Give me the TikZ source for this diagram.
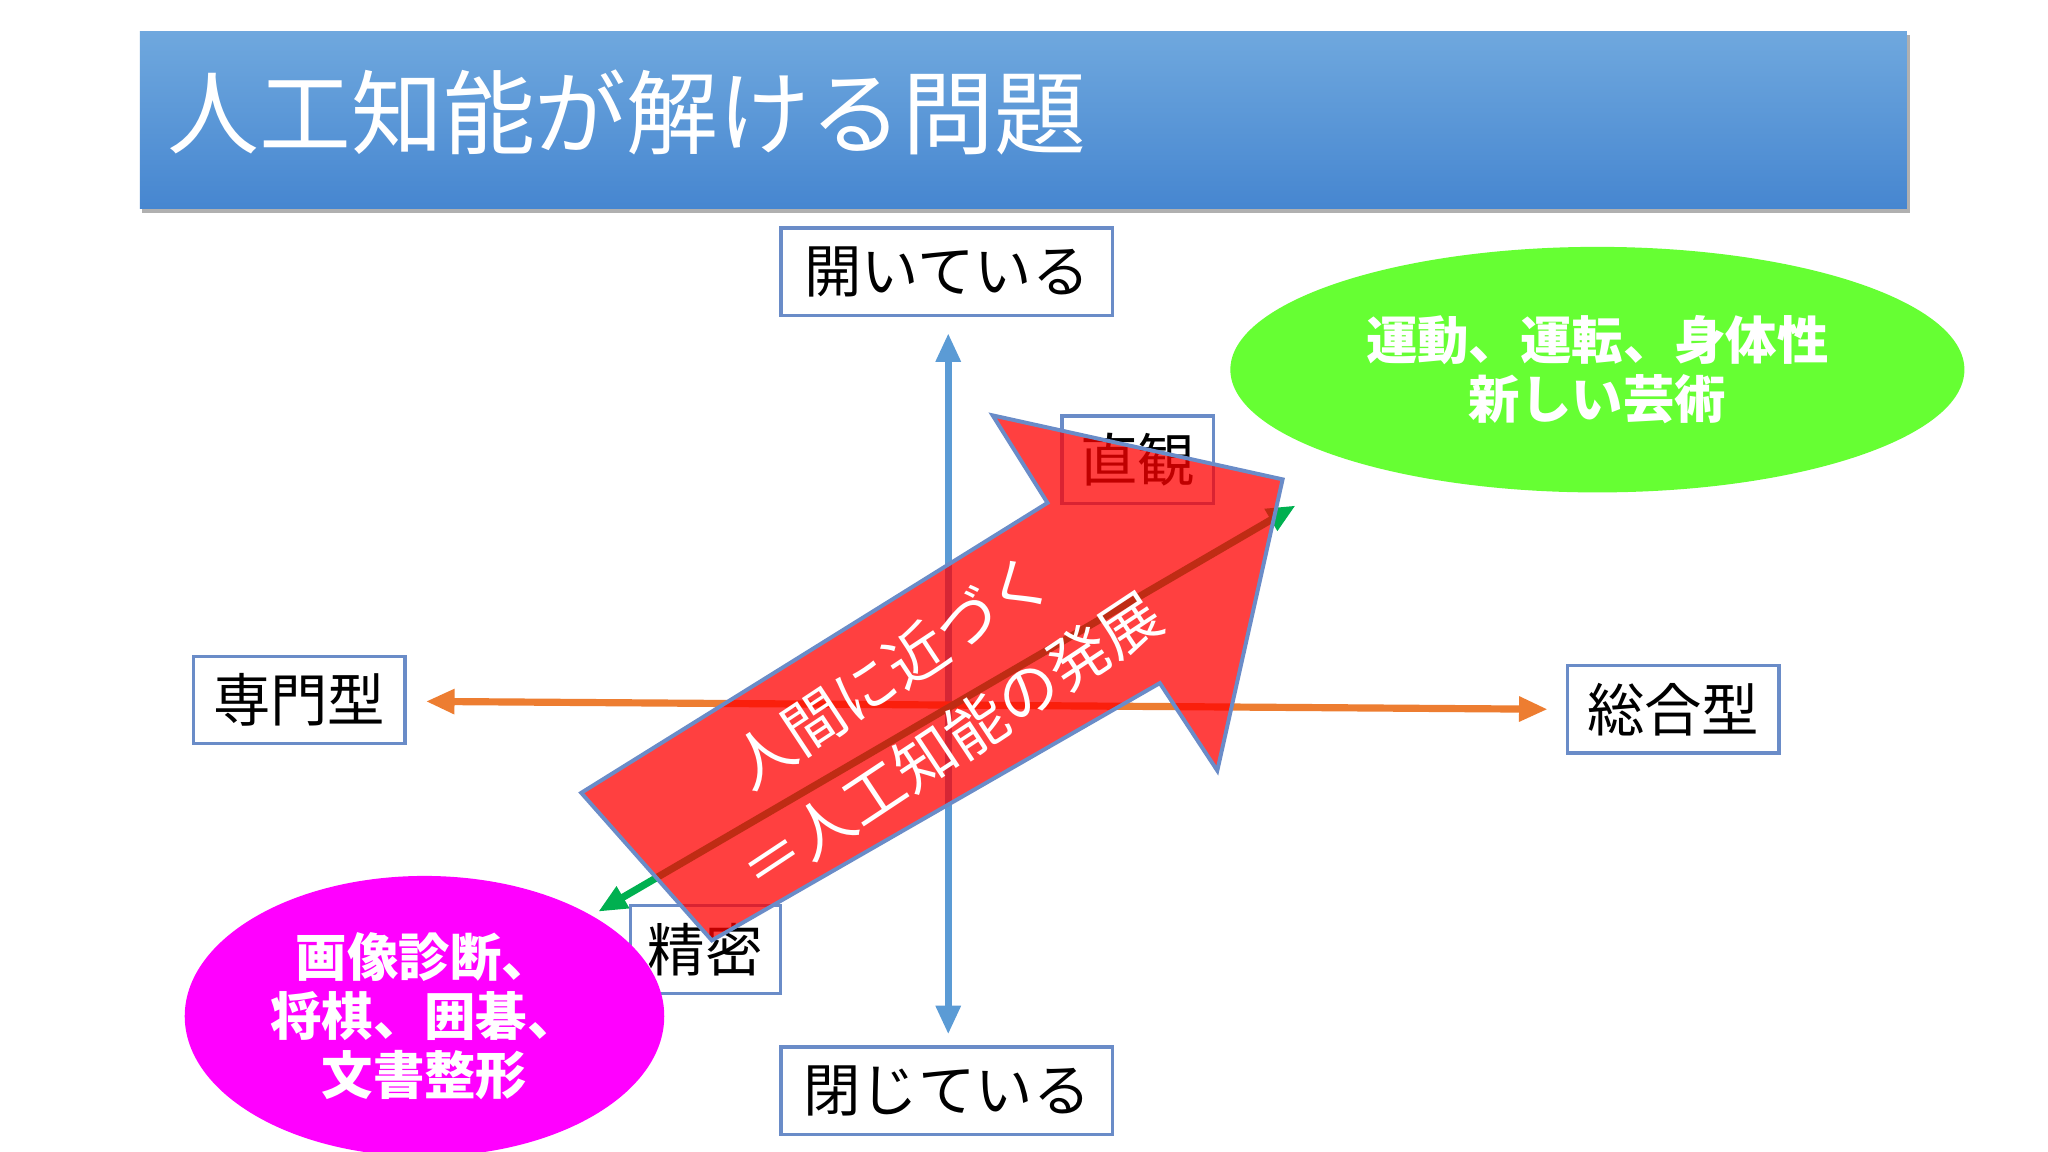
\documentclass[tikz,border=0pt]{standalone}
\usepackage{fontspec}
\setmainfont{Noto Sans CJK JP}
\usetikzlibrary{arrows.meta,shapes.geometric}
\definecolor{boxb}{HTML}{6A8CC8}
\definecolor{axb}{HTML}{5B9BD5}
\definecolor{axo}{HTML}{ED7D31}
\definecolor{grn}{HTML}{66FF33}
\definecolor{mag}{HTML}{FF00FF}
\definecolor{garr}{HTML}{00B050}
\definecolor{tshadow}{HTML}{B0B0B0}
\tikzset{lbl/.style={draw=boxb,line width=0.25mm,fill=white,font=\fontsize{12.5}{14}\selectfont,inner sep=0pt,anchor=center},
ell/.style={ellipse,fill=#1,text=white,font=\bfseries\fontsize{11.2}{12.9}\selectfont,align=center},
dbl/.style={line width=0.55mm,{Triangle[length=2.2mm,width=1.8mm]}-{Triangle[length=2.2mm,width=1.8mm]}},
arrtxt/.style={text=white,rotate=33.5,font=\fontsize{13.3}{15}\selectfont}}
\begin{document}
\begin{tikzpicture}[x=0.1mm,y=-0.1mm]
\useasboundingbox (0,0) rectangle (1568,882);
\fill[white] (0,0) rectangle (1568,882);
% title
\fill[tshadow] (109,27) rectangle (1462,163);
\shade[top color={rgb,255:red,111;green,168;blue,222}, bottom color={rgb,255:red,70;green,134;blue,208}] (107,24) rectangle (1460,160);
\node[anchor=west,text=white,font=\fontsize{20}{22}\selectfont] (title) at (116,86) {人工知能が解ける問題};
% axes
\coordinate (vt) at (726,255); \coordinate (vb) at (726,792);
\coordinate (hl) at (326,537); \coordinate (hr) at (1185,543);
\draw[axb,dbl] (vt) -- (vb);
\draw[axo,dbl] (hl) -- (hr);
% boxes
\node[lbl,minimum width=254*0.1mm,minimum height=67*0.1mm] (open) at (725,208) {開いている};
\node[lbl,minimum width=254*0.1mm,minimum height=67*0.1mm] (closed) at (725,835) {閉じている};
\node[lbl,minimum width=162*0.1mm,minimum height=67*0.1mm] (spec) at (229,536) {専門型};
\node[lbl,minimum width=162*0.1mm,minimum height=67*0.1mm] (gen) at (1281,543) {総合型};
\node[lbl,minimum width=116*0.1mm,minimum height=67*0.1mm] (intu) at (871,352) {直観};
\node[lbl,minimum width=115*0.1mm,minimum height=67*0.1mm] (prec) at (540,727) {精密};
% ellipses
\node[ell=grn,minimum width=562*0.1mm,minimum height=188*0.1mm] (ge) at (1223,283) {運動、運転、身体性\\新しい芸術};
\node[ell=mag,minimum width=360*0.1mm,minimum height=188*0.1mm] (me) at (325,778) {画像診断、\\将棋、囲碁、\\文書整形};
% green arrow
\coordinate (ga) at (458,698); \coordinate (gb) at (992,387);
\draw[garr,dbl] (ga) -- (gb);
% red arrow
\draw[draw=boxb,line width=0.3mm,fill=red,fill opacity=0.75] (445,607) -- (802,385) -- (760,318) -- (982,367) -- (932,590) -- (888,523) -- (545,720) -- cycle;
\node[arrtxt] (t1) at (682,514) {人間に近づく};
\node[arrtxt] (t2) at (728,568) {＝人工知能の発展};
\end{tikzpicture}
\end{document}
